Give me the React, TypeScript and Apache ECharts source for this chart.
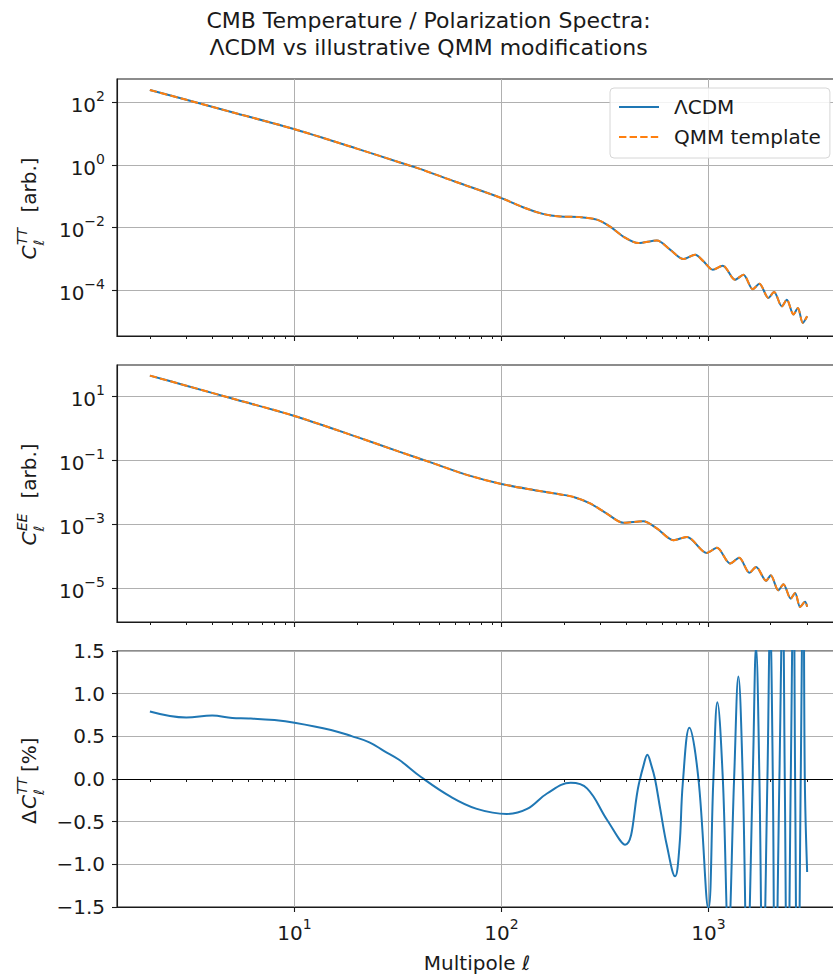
import React, { useEffect, useRef } from 'react';
import * as echarts from 'echarts';

// ---------- data ----------
const L_TT = [2, 3, 5, 10, 20, 32, 40, 60, 100, 130, 160, 192, 240, 289, 335, 388, 459, 563, 653, 757, 863, 946, 1050, 1173, 1346, 1476, 1638, 1763, 1949, 2076, 2263, 2392, 2577, 2705, 2858, 3000];
const TT_LCDM = [247, 120, 47.9, 13.8, 3.31, 1.22, 0.76, 0.288, 0.0867, 0.0417, 0.0267, 0.0224, 0.0214, 0.0178, 0.0107, 0.00513, 0.00316, 0.0038, 0.00195, 0.000977, 0.00135, 0.000832, 0.000447, 0.000603, 0.000214, 0.000309, 0.000107, 0.000158, 5.62e-5, 8.71e-5, 3.02e-5, 4.9e-5, 1.66e-5, 2.69e-5, 8.91e-6, 1.45e-5];
const TT_QMM = TT_LCDM; // visually indistinguishable from ΛCDM at this scale

const L_EE = [2, 3, 5, 10, 20, 32, 47, 68, 100, 143, 193, 223, 268, 323, 388, 485, 563, 678, 787, 982, 1099, 1274, 1407, 1578, 1700, 1900, 2000, 2178, 2303, 2500, 2624, 2774, 2931, 3000];
const EE_LCDM = [44.2, 21.4, 8.51, 2.42, 0.537, 0.185, 0.0794, 0.0347, 0.018, 0.0117, 0.00851, 0.00708, 0.00447, 0.00214, 0.0011, 0.00123, 0.000741, 0.000316, 0.000398, 0.000126, 0.000182, 5.89e-5, 8.91e-5, 3.02e-5, 4.57e-5, 1.7e-5, 2.51e-5, 8.51e-6, 1.32e-5, 4.68e-6, 7.08e-6, 2.57e-6, 3.72e-6, 2.63e-6];
const EE_QMM = EE_LCDM;

const L_DELTA = [2, 3, 4, 5, 6, 8, 10, 15, 19, 23, 27, 32, 41, 57, 76, 106, 133, 166, 216, 259, 324, 396, 462, 486, 507, 530, 552, 585, 630, 690, 724, 752, 809, 895, 1000, 1057, 1105, 1174, 1249, 1331, 1396, 1466, 1540, 1637, 1699, 1764, 1831, 1928, 1987, 2048, 2100, 2203, 2286, 2339, 2410, 2500, 2578, 2624, 2700, 2793, 2876, 2923, 3000];
const DELTA_TT = [0.79, 0.72, 0.745, 0.715, 0.71, 0.69, 0.66, 0.575, 0.5, 0.43, 0.33, 0.225, 0.02, -0.21, -0.35, -0.41, -0.35, -0.17, -0.045, -0.11, -0.48, -0.77, -0.05, 0.16, 0.285, 0.16, 0, -0.35, -0.78, -1.14, -0.8, -0.05, 0.6, 0, -1.52, 0, 0.9, 0, -1.85, 0, 1.2, 0, -2.2, 0, 1.55, 0, -2.55, 0, 1.85, 0, -2.9, 0, 2.15, 0, -3.2, 0, 2.45, 0, -3.5, 0, 2.75, 0, -1.09];

// axis ranges / ticks
const X_RANGE = [1.387, 4324];
const X_MAJOR = [10, 100, 1000];
const X_MINOR = [2, 3, 4, 5, 6, 7, 8, 9, 20, 30, 40, 50, 60, 70, 80, 90, 200, 300, 400, 500, 600, 700, 800, 900, 2000, 3000, 4000];
const TT_RANGE = [3.4e-6, 555];
const TT_TICKS = [1e-4, 1e-2, 1, 100];
const EE_RANGE = [8.7e-7, 95];
const EE_TICKS = [1e-5, 1e-3, 1e-1, 10];
const DELTA_RANGE = [-1.5, 1.5];
const DELTA_STEP = 0.5;

const SERIES_NAMES = ['ΛCDM', 'QMM template'];
const TITLE_LINES = ['CMB Temperature / Polarization Spectra:', 'ΛCDM vs illustrative QMM modifications'];

// ---------- styling ----------
const FONT = 'DejaVu Sans';
const FS = 20;
const INK = '#1a1a1a';
const BLUE = '#1f77b4';
const ORANGE = '#ff7f0e';
const GRIDC = '#b0b0b0';

const rich = {
  b: { fontSize: FS, fontFamily: FONT, color: INK, lineHeight: 26, verticalAlign: 'bottom' },
  s: { fontSize: 14, fontFamily: FONT, color: INK, verticalAlign: 'top' },
};

function powLabel(v: number) {
  const e = Math.round(Math.log10(v));
  const s = e < 0 ? '−' + Math.abs(e) : String(e);
  return `{b|10}{s|${s}}`;
}

function xMajor(gi: number, labels: boolean) {
  return {
    type: 'log', gridIndex: gi, min: X_RANGE[0], max: X_RANGE[1], position: 'bottom',
    axisLine: { show: true, onZero: false, lineStyle: { color: INK, width: 1.1 } },
    axisTick: { show: true, inside: false, length: 5, customValues: X_MAJOR, lineStyle: { color: INK, width: 1.1 } },
    axisLabel: { show: labels, customValues: X_MAJOR, formatter: powLabel, rich, margin: 10 },
    splitLine: { show: true, lineStyle: { color: GRIDC, width: 1 } },
    minorTick: { show: false }, minorSplitLine: { show: false },
  };
}
function xMinor(gi: number) {
  return {
    type: 'log', gridIndex: gi, min: X_RANGE[0], max: X_RANGE[1], position: 'bottom',
    axisLine: { show: false },
    axisTick: { show: true, inside: false, length: 3, customValues: X_MINOR, lineStyle: { color: INK, width: 1 } },
    axisLabel: { show: false },
    splitLine: { show: false },
  };
}
function yLog(gi: number, range: number[], ticks: number[]) {
  return {
    type: 'log', gridIndex: gi, min: range[0], max: range[1],
    axisLine: { show: true, onZero: false, lineStyle: { color: INK, width: 1.1 } },
    axisTick: { show: true, inside: false, length: 5, customValues: ticks, lineStyle: { color: INK, width: 1.1 } },
    axisLabel: { show: true, customValues: ticks, formatter: powLabel, rich, margin: 12 },
    splitLine: { show: true, lineStyle: { color: GRIDC, width: 1 } },
  };
}

function pairs(xs: number[], ys: number[]) {
  return xs.map((x, i) => [x, ys[i]]);
}

function lineSeries(name: string, xi: number, yi: number, data: number[][], color: string, dashed: boolean, smooth = 0.3) {
  return {
    name, type: 'line', xAxisIndex: xi, yAxisIndex: yi, data,
    showSymbol: false, symbol: 'none', smooth,
    lineStyle: { color, width: 2, type: dashed ? [7.4, 3.2] : 'solid' },
    itemStyle: { color },
    emphasis: { disabled: true }, silent: true,
  };
}

function yLabel(cy: number, sup: string, tail: string, delta: boolean) {
  const base = { fontFamily: FONT, fill: INK, align: 'left', verticalAlign: 'middle' };
  const children: any[] = [];
  let x0 = delta ? -45 : -52;
  if (delta) {
    children.push({ type: 'text', x: x0, y: -7, style: { ...base, text: 'Δ', fontSize: FS } });
    x0 += 15;
  }
  children.push({ type: 'text', x: x0, y: -7, style: { ...base, text: 'C', fontSize: FS, fontStyle: 'italic' } });
  children.push({ type: 'text', x: x0 + 14.5, y: -14, style: { ...base, text: sup, fontSize: 14, fontStyle: 'italic' } });
  children.push({ type: 'text', x: x0 + 14, y: 2.5, style: { ...base, text: 'ℓ', fontSize: 14, fontStyle: 'italic' } });
  children.push({ type: 'text', x: delta ? 7 : -5, y: -7, style: { ...base, text: tail, fontSize: FS } });
  return { type: 'group', x: 36, y: cy, rotation: Math.PI / 2, children };
}

export default function App() {
  const ref = useRef<HTMLDivElement>(null);
  useEffect(() => {
    if (!ref.current) return;
    const chart = echarts.init(ref.current, null, { renderer: 'svg' });
    const gridBase = { left: 117, right: -7, show: true, borderColor: INK, borderWidth: 1.1, backgroundColor: 'transparent', containLabel: false, outerBoundsMode: 'none' };
    const option: any = {
      animation: false,
      backgroundColor: '#ffffff',
      grid: [
        { ...gridBase, top: 79, height: 257 },
        { ...gridBase, top: 365, height: 257 },
        { ...gridBase, top: 651, height: 256 },
      ],
      xAxis: [xMajor(0, false), xMinor(0), xMajor(1, false), xMinor(1), xMajor(2, true), xMinor(2)],
      yAxis: [
        yLog(0, TT_RANGE, TT_TICKS),
        yLog(1, EE_RANGE, EE_TICKS),
        {
          type: 'value', gridIndex: 2, min: DELTA_RANGE[0], max: DELTA_RANGE[1], interval: DELTA_STEP,
          axisLine: { show: true, onZero: false, lineStyle: { color: INK, width: 1.1 } },
          axisTick: { show: true, inside: false, length: 5, lineStyle: { color: INK, width: 1.1 } },
          axisLabel: { show: true, margin: 12, fontSize: FS, fontFamily: FONT, color: INK, formatter: (v: number) => v.toFixed(1).replace('-', '−') },
          splitLine: { show: true, lineStyle: { color: GRIDC, width: 1 } },
        },
      ],
      legend: {
        data: SERIES_NAMES, orient: 'vertical', left: 610, top: 88,
        itemWidth: 40, itemHeight: 18, itemGap: 10, padding: [9, 9, 11, 8],
        backgroundColor: 'rgba(255,255,255,0.85)', borderColor: '#d6d6d6', borderWidth: 1, borderRadius: 4,
        itemStyle: { opacity: 0 },
        textStyle: { fontSize: FS, fontFamily: FONT, color: INK, padding: [0, 0, 0, 10] },
        selectedMode: false, z: 10,
      },
      series: [
        lineSeries(SERIES_NAMES[0], 0, 0, pairs(L_TT, TT_LCDM), BLUE, false),
        lineSeries(SERIES_NAMES[1], 0, 0, pairs(L_TT, TT_QMM), ORANGE, true),
        lineSeries(SERIES_NAMES[0], 2, 1, pairs(L_EE, EE_LCDM), BLUE, false),
        lineSeries(SERIES_NAMES[1], 2, 1, pairs(L_EE, EE_QMM), ORANGE, true),
        {
          ...lineSeries('ΔC_TT', 4, 2, pairs(L_DELTA, DELTA_TT), BLUE, false, 0.4),
          markLine: {
            silent: true, symbol: ['none', 'none'], label: { show: false },
            lineStyle: { color: '#000', width: 1.1, type: 'solid' },
            emphasis: { disabled: true },
            data: [{ yAxis: 0 }],
          },
        },
      ],
      graphic: {
        elements: [
          { type: 'text', x: 428.5, y: 20.5, style: { text: TITLE_LINES[0], fontSize: 22, fontFamily: FONT, fill: INK, align: 'center', verticalAlign: 'middle' } },
          { type: 'text', x: 428.5, y: 47, style: { text: TITLE_LINES[1], fontSize: 22, fontFamily: FONT, fill: INK, align: 'center', verticalAlign: 'middle' } },
          { type: 'text', x: 477, y: 963, style: { text: 'Multipole ℓ', fontSize: FS, fontFamily: FONT, fill: INK, align: 'center', verticalAlign: 'middle' } },
          yLabel(207.5, 'TT', '[arb.]', false),
          yLabel(493.5, 'EE', '[arb.]', false),
          yLabel(779, 'TT', '[%]', true),
        ],
      },
    };
    chart.setOption(option);
    return () => chart.dispose();
  }, []);
  return (
    <div style={{ position: 'fixed', left: 0, top: 0, width: 833, height: 978, overflow: 'hidden', background: '#fff' }}>
      <div ref={ref} style={{ width: 833, height: 978 }} />
    </div>
  );
}
